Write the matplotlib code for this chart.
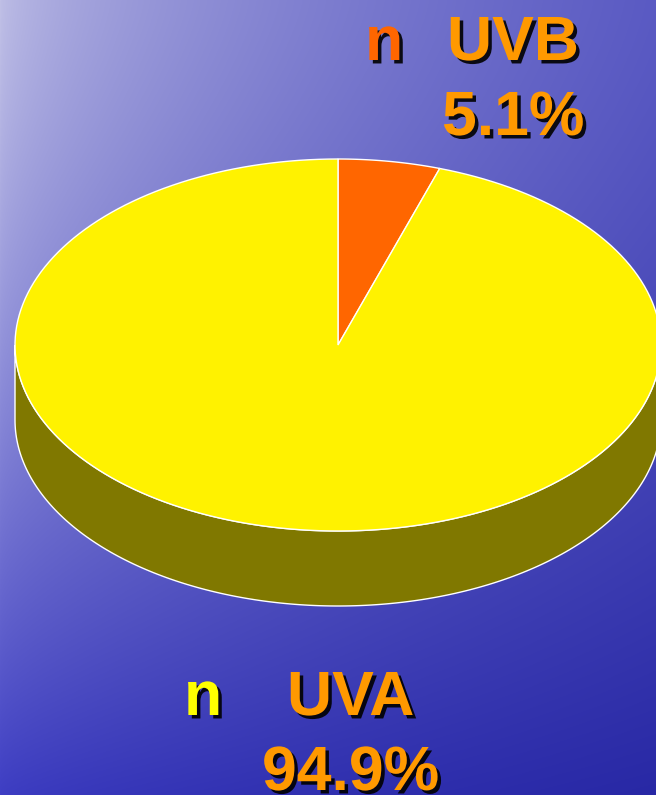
import numpy as np
import matplotlib.pyplot as plt
from matplotlib.patches import Polygon
import matplotlib.patheffects as pe

# slice data (clockwise from 12 o'clock)
labels = ['UVB', 'UVA']
shares = [5.1, 94.9]
pct_text = ['5.1%', '94.9%']
top_colors = ['#ff6600', '#fff200']
side_colors = ['#803300', '#807800']
bullet_colors = ['#ff6600', '#ffff00']

W, H = 656, 795
fig = plt.figure(figsize=(W / 100, H / 100), dpi=100)
ax = fig.add_axes([0, 0, 1, 1])
ax.set_xlim(0, W)
ax.set_ylim(H, 0)
ax.axis('off')

# blue background, light in the top-left corner (bilinear blend of corner colours)
xx, yy = np.meshgrid(np.arange(W) / W, np.arange(H) / H)
xs = xx ** 0.6
ys = yy ** 1.3
tl = np.array([192, 192, 230]) / 255
tr = np.array([90, 90, 195]) / 255
bl = np.array([62, 62, 196]) / 255
br = np.array([40, 40, 165]) / 255
top = (1 - xs)[..., None] * tl + xs[..., None] * tr
bot = (1 - xs)[..., None] * bl + xs[..., None] * br
bg = (1 - ys)[..., None] * top + ys[..., None] * bot
ax.imshow(bg, extent=[0, W, H, 0], zorder=0)

# 3d pie geometry (pixels)
cx, cy = 338, 345
rx, ry = 323, 186
depth = 75


def arc(a_start, a_end, dy=0, n=200):
    th = np.radians(np.linspace(a_start, a_end, n))
    return np.column_stack([cx + rx * np.cos(th), cy - ry * np.sin(th) + dy])


edges = 90 - 3.6 * np.concatenate([[0], np.cumsum(shares)])

# side walls (front half only)
for i in range(len(shares)):
    hi, lo = edges[i], edges[i + 1]
    for k in (-1, 0, 1):
        a = max(lo, -180 + 360 * k)
        b = min(hi, 0 + 360 * k)
        if a < b:
            pts = np.vstack([arc(a, b), arc(b, a, dy=depth)])
            ax.add_patch(Polygon(pts, closed=True, fc=side_colors[i], ec='white', lw=1, zorder=2))

# top faces
for i in range(len(shares)):
    pts = np.vstack([[cx, cy], arc(edges[i], edges[i + 1])])
    ax.add_patch(Polygon(pts, closed=True, fc=top_colors[i], ec='white', lw=1, zorder=3))

font = dict(fontsize=45, fontweight='bold', family='Liberation Sans', va='baseline', ha='left', zorder=5)

# labels: UVB top-right, UVA bottom
label_pos = [((365, 60), (447, 60), (442, 135)), ((184, 715), (287, 715), (262, 790))]
for i in range(len(labels)):
    (bx, by), (lx, ly), (px, py) = label_pos[i]
    t1 = ax.text(bx, by, 'n', color=bullet_colors[i], **font)
    t2 = ax.text(lx, ly, labels[i], color='#ff9900', **font)
    t3 = ax.text(px, py, pct_text[i], color='#ff9900', **font)
    for tx in (t1, t2, t3):
        tx.set_path_effects([pe.SimplePatchShadow(offset=(2.5, -2.5), shadow_rgbFace='black', alpha=0.9), pe.Normal()])

fig.savefig('out.png', dpi=100)
